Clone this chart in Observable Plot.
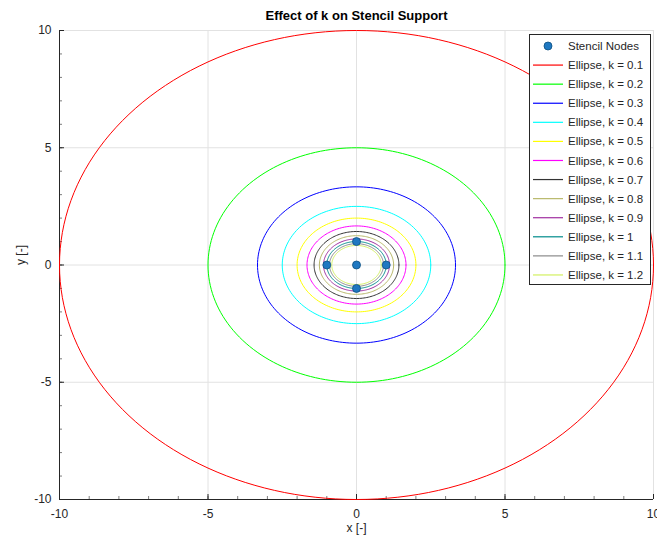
<!DOCTYPE html>
<html>
<head>
<meta charset="utf-8">
<script src="https://cdn.jsdelivr.net/npm/d3@7"></script>
<script src="https://cdn.jsdelivr.net/npm/@observablehq/plot@0.6"></script>
<style>
  html, body { margin: 0; padding: 0; background: #fff; }
  #chart svg { display: block; }
</style>
</head>
<body>
<div id="chart"></div>
<script>
// ---- data ----
const titleText = "Effect of k on Stencil Support";
const xLabel = "x [-]";
const yLabel = "y [-]";
const kValues = [0.1, 0.2, 0.3, 0.4, 0.5, 0.6, 0.7, 0.8, 0.9, 1, 1.1, 1.2];
const kColors = ["#ff0000", "#00ff00", "#0000ff", "#00ffff", "#ffff00", "#ff00ff",
                 "#333333", "#b8b86a", "#a02ea0", "#008b8b", "#8a8a8a", "#d2f060"];
const nodeX = [0, 1, -1, 0, 0];
const nodeY = [0, 0, 0, 1, -1];
const majorTicks = [-10, -5, 0, 5, 10];
const gridTicks = [-5, 0, 5, 10];
const minorTicks = d3.range(-10, 11, 1);
const nodeLabel = "Stencil Nodes";

// ellipse (radius 1/k) outlines built from k
const ellipses = kValues.flatMap(k =>
  d3.range(0, 361, 2).map(deg => {
    const t = deg * Math.PI / 180;
    return {k, x: Math.cos(t) / k, y: Math.sin(t) / k};
  })
);
const nodes = nodeX.map((x, i) => ({x, y: nodeY[i]}));

const font = "'Liberation Sans', Arial, Helvetica, sans-serif";
const axisColor = "#262626";

function legendMark(index, scales, values, dims) {
  const right = dims.width - dims.marginRight - 3;
  const w = 121;
  const left = right - w;
  const top = dims.marginTop + 4;
  const rowH = 19.08;
  const h = 250;
  const g = d3.create("svg:g").attr("font-family", font).attr("font-size", 11.5)
    .attr("fill", axisColor).attr("text-anchor", "start");
  g.append("rect").attr("x", left + 0.5).attr("y", top + 0.5).attr("width", w).attr("height", h)
    .attr("fill", "#fff").attr("stroke", axisColor).attr("stroke-width", 1);
  const cy0 = top + 12;
  g.append("circle").attr("cx", left + 19).attr("cy", cy0).attr("r", 4)
    .attr("fill", "#1f78c1").attr("stroke", "#0b4f80").attr("stroke-width", 0.8);
  g.append("text").attr("x", left + 39).attr("y", cy0).attr("dy", "0.35em")
    .attr("text-anchor", "start").text(nodeLabel);
  kValues.forEach((k, i) => {
    const cy = cy0 + (i + 1) * rowH;
    g.append("line").attr("x1", left + 4).attr("x2", left + 34).attr("y1", cy).attr("y2", cy)
      .attr("stroke", scales.color(k)).attr("stroke-width", 1.2);
    g.append("text").attr("x", left + 39).attr("y", cy).attr("dy", "0.35em")
      .attr("text-anchor", "start").text(`Ellipse, k = ${k}`);
  });
  return g.node();
}

const chart = Plot.plot({
  width: 657,
  height: 545,
  marginLeft: 59,
  marginRight: 4,
  marginTop: 30,
  marginBottom: 46,
  style: {fontFamily: font, color: axisColor, background: "#fff"},
  x: {domain: [-10, 10], label: null},
  y: {domain: [-10, 10], label: null},
  color: {type: "ordinal", domain: kValues, range: kColors},
  marks: [
    Plot.ruleX(gridTicks, {stroke: "#e2e2e2", strokeWidth: 1}),
    Plot.ruleY(gridTicks, {stroke: "#e2e2e2", strokeWidth: 1}),
    Plot.ruleX([-10], {stroke: axisColor, strokeWidth: 1}),
    Plot.ruleY([-10], {stroke: axisColor, strokeWidth: 1}),
    Plot.axisX(minorTicks, {anchor: "bottom", tickSize: -3, tickFormat: () => "", label: null, stroke: axisColor, strokeOpacity: 0.6}),
    Plot.axisY(minorTicks, {anchor: "left", tickSize: -3, tickFormat: () => "", label: null, stroke: axisColor, strokeOpacity: 0.6}),
    Plot.axisX(majorTicks, {anchor: "bottom", tickSize: -5, tickPadding: 15, fontSize: 12, label: null, tickFormat: d => String(d), stroke: axisColor, fill: axisColor}),
    Plot.axisY(majorTicks, {anchor: "left", tickSize: -5, tickPadding: 13, fontSize: 12, label: null, tickFormat: d => String(d), stroke: axisColor, fill: axisColor}),
    Plot.line(ellipses, {x: "x", y: "y", z: "k", stroke: "k", strokeWidth: 1}),
    Plot.dot(nodes, {x: "x", y: "y", r: 4, fill: "#1f78c1", stroke: "#0b4f80", strokeWidth: 0.8}),
    Plot.text([titleText], {frameAnchor: "top", dy: -20, fontSize: 13, fontWeight: "bold", fill: "#000"}),
    Plot.text([xLabel], {frameAnchor: "bottom", dy: 32, fontSize: 12, fill: axisColor}),
    Plot.text([yLabel], {frameAnchor: "left", dx: -38, rotate: -90, fontSize: 12, fill: axisColor}),
    legendMark
  ]
});
document.getElementById("chart").append(chart);
</script>
</body>
</html>
